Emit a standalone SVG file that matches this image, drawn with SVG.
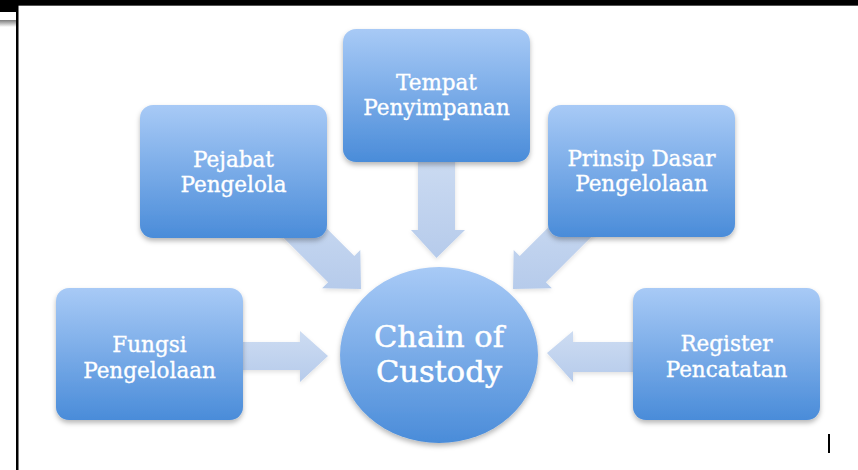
<svg xmlns="http://www.w3.org/2000/svg" width="858" height="470" viewBox="0 0 858 470">
  <defs>
    <linearGradient id="boxFill" x1="0" y1="0" x2="0" y2="1">
      <stop offset="0" stop-color="#a8caf6"/>
      <stop offset="1" stop-color="#4a8cd9"/>
    </linearGradient>
    <linearGradient id="arrowFill" x1="0" y1="0" x2="0" y2="1">
      <stop offset="0" stop-color="#cddcf2"/>
      <stop offset="1" stop-color="#b6cbeb"/>
    </linearGradient>
    <linearGradient id="edgeStrip" x1="0" y1="0" x2="0" y2="1">
      <stop offset="0" stop-color="#7a7a7a"/>
      <stop offset="1" stop-color="#ffffff"/>
    </linearGradient>
    <filter id="shadow" x="-10%" y="-10%" width="120%" height="125%">
      <feDropShadow dx="0" dy="3" stdDeviation="2.5" flood-color="#000" flood-opacity="0.28"/>
    </filter>
    <filter id="soft" x="-10%" y="-10%" width="120%" height="125%">
      <feDropShadow dx="0" dy="2" stdDeviation="2" flood-color="#000" flood-opacity="0.12"/>
    </filter>
  </defs>
  <style>
    .box { fill: url(#boxFill); filter: url(#shadow); }
    .arrow { fill: url(#arrowFill); filter: url(#soft); }
    .lbl { font-family: "DejaVu Serif", "Liberation Serif", serif; font-size: 21.5px; fill: #ffffff; stroke: #ffffff; stroke-width: 0.35; text-anchor: middle; }
    .big { font-size: 30.5px; stroke-width: 0.5; }
  </style>

  <!-- page frame -->
  <rect x="0" y="0" width="858" height="470" fill="#ffffff"/>
  <rect x="0" y="0" width="858" height="5" fill="#000000"/>
  <rect x="0" y="5" width="858" height="1" fill="#555555"/>
  <rect x="0" y="0" width="17" height="12" fill="#000000"/>
  <rect x="0" y="20" width="16" height="7" fill="url(#edgeStrip)"/>
  <rect x="16" y="0" width="2.5" height="470" fill="#000000"/>
  <rect x="828" y="434" width="2" height="19" fill="#000000"/>

  <!-- connectors -->
  <g id="connectors">
    <!-- from Tempat Penyimpanan (down) -->
    <path class="arrow" d="M418,150 L455,150 L455,230 L465,230 L436.5,258 L411,230 L418,230 Z"/>
    <!-- from Pejabat Pengelola (diagonal, 45deg) -->
    <path class="arrow" d="M290.7,192.5 L354.3,256.1 L360.3,250.1 L361,289 L322.1,288.3 L328.1,282.3 L264.5,218.7 Z"/>
    <!-- from Prinsip Dasar Pengelolaan (diagonal, 45deg) -->
    <path class="arrow" d="M583.3,192.5 L519.7,256.1 L513.7,250.1 L513,289 L551.9,288.3 L545.9,282.3 L609.5,218.7 Z"/>
    <!-- from Fungsi Pengelolaan (right) -->
    <path class="arrow" d="M235,342 L300,342 L300,331 L328,356 L300,382 L300,370 L235,370 Z"/>
    <!-- from Register Pencatatan (left) -->
    <path class="arrow" d="M640,342 L573,342 L573,331 L547,353 L573,382 L573,372 L640,372 Z"/>
  </g>

  <g id="node-pejabat">
    <rect class="box" x="140" y="105" width="187" height="133" rx="13"/>
    <text class="lbl" x="233.5" y="167">Pejabat</text>
    <text class="lbl" x="233.5" y="192">Pengelola</text>
  </g>

  <g id="node-tempat">
    <rect class="box" x="343" y="29" width="187" height="133" rx="13"/>
    <text class="lbl" x="436.5" y="90">Tempat</text>
    <text class="lbl" x="436.5" y="115">Penyimpanan</text>
  </g>

  <g id="node-prinsip">
    <rect class="box" x="548" y="105" width="187" height="132" rx="13"/>
    <text class="lbl" x="641.5" y="166">Prinsip Dasar</text>
    <text class="lbl" x="641.5" y="191">Pengelolaan</text>
  </g>

  <g id="node-fungsi">
    <rect class="box" x="56" y="288" width="187" height="132" rx="13"/>
    <text class="lbl" x="149.5" y="352">Fungsi</text>
    <text class="lbl" x="149.5" y="378">Pengelolaan</text>
  </g>

  <g id="node-register">
    <rect class="box" x="633" y="288" width="187" height="132" rx="13"/>
    <text class="lbl" x="726.5" y="351">Register</text>
    <text class="lbl" x="726.5" y="377">Pencatatan</text>
  </g>

  <g id="node-chain">
    <ellipse class="box" cx="439" cy="355" rx="99" ry="88"/>
    <text class="lbl big" x="439" y="347">Chain of</text>
    <text class="lbl big" x="439" y="382">Custody</text>
  </g>
</svg>
